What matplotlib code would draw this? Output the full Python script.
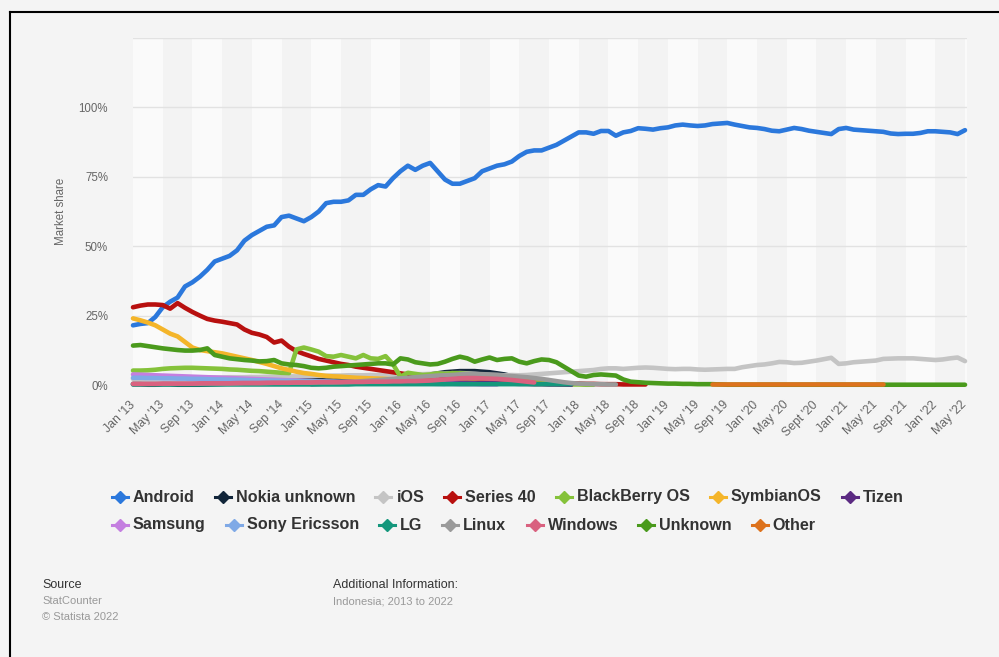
import numpy as np
import matplotlib.pyplot as plt
from matplotlib.lines import Line2D

# Monthly market share of mobile OS in Indonesia, Jan 2013 - May 2022 (113 months)
n_months = 113
tick_labels = ["Jan '13", "May '13", "Sep '13", "Jan '14", "May '14", "Sep '14",
               "Jan '15", "May '15", "Sep '15", "Jan '16", "May '16", "Sep '16",
               "Jan '17", "May '17", "Sep '17", "Jan '18", "May '18", "Sep '18",
               "Jan '19", "May '19", "Sep '19", "Jan '20", "May '20", "Sept '20",
               "Jan '21", "May '21", "Sep '21", "Jan '22", "May '22"]

android = [21.5, 22, 22.3, 24.5, 28, 30, 31.5, 35.5, 37, 39,
           41.5, 44.5, 45.5, 46.5, 48.5, 52, 54, 55.5, 57, 57.5,
           60.5, 61, 60, 59, 60.5, 62.5, 65.5, 66, 66, 66.5,
           68.5, 68.5, 70.5, 72, 71.5, 74.5, 77, 79, 77.5, 79,
           80, 77, 74, 72.5, 72.5, 73.5, 74.5, 77, 78, 79,
           79.5, 80.5, 82.5, 84, 84.5, 84.5, 85.5, 86.5, 88, 89.5,
           91, 91, 90.5, 91.5, 91.5, 89.8, 91, 91.5, 92.5, 92.3,
           92, 92.5, 92.8, 93.5, 93.8, 93.5, 93.3, 93.5, 94, 94.2,
           94.4, 93.8, 93.3, 92.8, 92.6, 92.2, 91.6, 91.4, 92, 92.6,
           92.2, 91.6, 91.2, 90.8, 90.4, 92.2, 92.6, 92, 91.8, 91.6,
           91.4, 91.2, 90.6, 90.4, 90.5, 90.5, 90.8, 91.4, 91.4, 91.2,
           91, 90.4, 91.8]

nokia_unknown = [0.3, 0.3, 0.1, 0.1, 0.3, 0.3, 0.1, 0.1, 0.1, 0.1,
                 0.2, 0.3, 0.4, 0.5, 0.6, 0.7, 0.8, 0.9, 1, 1.1,
                 1.3, 1.8, 2.4, 2.6, 2.2, 1.8, 1.6, 1.6, 1.8, 2,
                 2.2, 2.3, 2.4, 2.5, 2.6, 2.8, 3, 3.2, 3.4, 3.6,
                 3.8, 4.2, 4.6, 4.8, 5, 5, 5, 4.8, 4.6, 4.2,
                 3.8, 3.2, 2.6, 2, 1.5, 1, 0.6, 0.4, 0.2, 0.1] + [None] * 53

ios = [2.2, 2.2, 2.3, 2.3, 2.4, 2.4, 2.5, 2.5, 2.5, 2.6,
       2.6, 2.7, 2.7, 2.8, 2.8, 2.8, 2.9, 2.9, 3, 3,
       3, 3.1, 3.1, 3.2, 3.2, 3.3, 3.3, 3.4, 3.4, 3.5,
       3.5, 3.5, 3.6, 3.6, 3.7, 3.7, 3.8, 3.8, 3.9, 3.9,
       4, 4, 4.1, 4.2, 4.3, 4.2, 4, 3.8, 3.6, 3.6,
       3.5, 3.6, 3.5, 3.6, 3.8, 4, 4.2, 4.4, 4.6, 4.8,
       5, 5.2, 5.4, 5.8, 6, 6, 5.8, 6, 6.2, 6.3,
       6.2, 6, 5.8, 5.7, 5.8, 5.8, 5.6, 5.5, 5.6, 5.7,
       5.8, 5.8, 6.4, 6.8, 7.2, 7.4, 7.8, 8.3, 8.2, 7.9,
       8, 8.4, 8.8, 9.3, 9.8, 7.6, 7.8, 8.2, 8.4, 8.6,
       8.8, 9.4, 9.5, 9.6, 9.6, 9.6, 9.4, 9.2, 9, 9.2,
       9.6, 9.9, 8.6]

series_40 = [28, 28.6, 29, 29, 28.8, 27.5, 29.5, 27.8, 26.3, 25,
             23.8, 23.2, 22.8, 22.3, 21.8, 20, 18.8, 18.2, 17.3, 15.3,
             16, 13.8, 12.2, 11.2, 10.3, 9.4, 8.8, 8.2, 7.6, 7.2,
             6.6, 6.2, 5.8, 5.4, 5, 4.6, 4.2, 3.8, 3.4, 3.1,
             2.6, 3.6, 2.8, 2.4, 2.6, 2.3, 2.1, 2, 1.9, 1.7,
             1.5, 1.4, 1.2, 1.1, 1, 0.9, 0.8, 0.7, 0.6, 0.5,
             0.5, 0.4, 0.4, 0.3, 0.3, 0.3, 0.2, 0.2, 0.2, 0.2] + [None] * 43

blackberry = [5.2, 5.2, 5.3, 5.5, 5.8, 6, 6.1, 6.2, 6.2, 6.1,
              6, 5.9, 5.8, 5.6, 5.5, 5.3, 5.1, 5, 4.8, 4.6,
              4.4, 4.3, 12.8, 13.5, 12.8, 12, 10.4, 10.2, 10.8, 10.2,
              9.6, 10.8, 9.6, 9.4, 10.4, 7.5, 3, 4.4, 4, 3.6,
              3.8, 4.2, 4, 4.3, 4.2, 4, 3.8, 3.6, 3.4, 3,
              2.8, 2.6, 2.3, 2, 1.6, 1.2, 0.8, 0.5, 0.3, 0.2,
              0.2, 0.1, 0.1] + [None] * 50

symbian = [24, 23.3, 22.5, 21.5, 20, 18.5, 17.5, 15.5, 13.5, 12.6,
           12.2, 11.8, 11.4, 10.8, 10.2, 9.6, 9, 8.3, 7.6, 6.8,
           6, 5.4, 4.8, 4.3, 4, 3.6, 3.3, 3.1, 3, 2.8,
           2.6, 2.5, 2.4, 2.3, 2.2, 2, 1.9, 1.8, 1.7, 1.6,
           1.5, 1.4, 1.3, 1.2, 1.1, 1, 0.9, 0.8, 0.8, 0.7,
           0.6, 0.6, 0.5, 0.5, 0.4, 0.4, 0.3, 0.3, 0.3, 0.2] + [None] * 53

tizen = [None] * 24 + [0.3, 0.4, 0.5, 0.6, 0.7, 0.8,
                       0.9, 1, 1, 1.1, 1.1, 1.2, 1.2, 1.2, 1.1, 1.1,
                       1, 1, 0.9, 0.9, 0.8, 0.8, 0.7, 0.7, 0.6, 0.6,
                       0.5, 0.5, 0.4, 0.4, 0.3, 0.3, 0.2, 0.2, 0.2, 0.1] + [None] * 53

samsung = [3.8, 3.7, 3.6, 3.5, 3.4, 3.3, 3.2, 3.1, 3, 2.9,
           2.8, 2.7, 2.6, 2.5, 2.4, 2.3, 2.2, 2.1, 2, 1.9,
           1.8, 1.7, 1.6, 1.5, 1.4, 1.3, 1.2, 1.1, 1, 1,
           0.9, 0.9, 0.8, 0.8, 0.7, 0.7, 0.6, 0.6, 0.5, 0.5,
           0.5, 0.4, 0.4, 0.4, 0.3, 0.3, 0.3, 0.2, 0.2, 0.2] + [None] * 63

sony_ericsson = [2.6, 2.6, 2.5, 2.5, 2.4, 2.4, 2.3, 2.3, 2.2, 2.2,
                 2.1, 2, 2, 1.9, 1.9, 1.8, 1.7, 1.7, 1.6, 1.6,
                 1.5, 1.5, 1.4, 1.4, 1.3, 1.3, 1.2, 1.2, 1.1, 1.1,
                 1, 1, 0.9, 0.9, 0.8, 0.8, 0.7, 0.7, 0.6, 0.6,
                 0.5, 0.5, 0.4] + [None] * 70

lg = [0.2] * 30 + [0.3] * 30 + [None] * 53

linux = [0.5, 0.5, 0.5, 0.5, 0.5, 0.5, 0.5, 0.5, 0.5, 0.5,
         0.6, 0.6, 0.6, 0.6, 0.6, 0.7, 0.7, 0.7, 0.7, 0.8,
         0.8, 0.8, 0.9, 0.9, 0.9, 1, 1, 1, 1.1, 1.1,
         1.2, 1.4, 1.6, 1.8, 2, 2.2, 2.4, 2.6, 2.8, 3,
         3.2, 3.4, 3.5, 3.6, 3.8, 4, 4, 3.9, 3.8, 3.6,
         3.4, 3.2, 3, 2.8, 2.5, 2.2, 1.8, 1.4, 1, 0.7,
         0.5, 0.4, 0.3, 0.3, 0.2, 0.2] + [None] * 47

windows = [0.4, 0.4, 0.4, 0.4, 0.5, 0.5, 0.5, 0.5, 0.5, 0.6,
           0.6, 0.6, 0.6, 0.6, 0.7, 0.7, 0.7, 0.7, 0.8, 0.8,
           0.8, 0.8, 0.9, 0.9, 0.9, 1, 1, 1, 1, 1.1,
           1.1, 1.1, 1.2, 1.2, 1.2, 1.3, 1.3, 1.4, 1.4, 1.5,
           1.6, 1.8, 2, 2.2, 2.4, 2.5, 2.5, 2.4, 2.3, 2.2,
           2, 1.8, 1.5, 1.2, 0.9] + [None] * 58

unknown = [14.2, 14.4, 14, 13.6, 13.2, 12.9, 12.6, 12.4, 12.4, 12.6,
           13.2, 10.8, 10.2, 9.6, 9.3, 9, 8.8, 8.5, 8.6, 9,
           7.8, 7.4, 7.2, 6.8, 6.2, 6, 6.2, 6.6, 6.8, 7,
           7.2, 7.4, 7.6, 7.8, 7.8, 7.4, 9.6, 9.2, 8.2, 7.8,
           7.4, 7.6, 8.4, 9.4, 10.2, 9.6, 8.4, 9.2, 9.9, 9,
           9.4, 9.6, 8.4, 7.8, 8.6, 9.2, 9, 8.2, 6.6, 5,
           3.4, 3, 3.6, 3.8, 3.6, 3.4, 2, 1.2, 1, 0.8,
           0.7, 0.6, 0.5, 0.5, 0.4, 0.4, 0.3, 0.3, 0.3, 0.2] + [0.1] * 33

other = [None] * 78 + [0.2] * 24 + [None] * 11

names = ["Android", "Nokia unknown", "iOS", "Series 40", "BlackBerry OS", "SymbianOS", "Tizen",
         "Samsung", "Sony Ericsson", "LG", "Linux", "Windows", "Unknown", "Other"]
values = [android, nokia_unknown, ios, series_40, blackberry, symbian, tizen,
          samsung, sony_ericsson, lg, linux, windows, unknown, other]
colors = ["#2b78dc", "#12263a", "#c4c4c4", "#b8100f", "#85c23a", "#f4b52a", "#5b2a82",
          "#c47fe0", "#7fa9e6", "#14977c", "#9a9a9a", "#d9617f", "#4a9a1c", "#dd721d"]

W, H = 999, 657
fig = plt.figure(figsize=(W / 100, H / 100), dpi=100, facecolor="#f4f4f4")
plt.rcParams['font.family'] = ['Liberation Sans', 'DejaVu Sans']

def fx(x):
    return x / W

def fy(y):
    return 1 - y / H

# plot area: x 133..967 px, y 38..385 px (0% .. 125%)
ax = fig.add_axes([fx(133), fy(385), fx(967) - fx(133), fy(38) - fy(385)])
ax.set_facecolor("#fafafa")
ax.set_xlim(0, 112 * (967 - 133) / (965 - 133))
ax.set_ylim(0, 125)

tick_pos = np.arange(0, n_months, 4)
for k, p in enumerate(tick_pos):
    if k % 2 == 1:
        ax.axvspan(p, p + 4, color="#f3f3f3", lw=0, zorder=0)

for v in [0, 25, 50, 75, 100, 125]:
    ax.axhline(v, color="#e2e2e2", lw=1, zorder=1)

x = np.arange(n_months)
for name, vals, c in zip(names, values, colors):
    y = np.array([np.nan if v is None else v for v in vals], dtype=float)
    ax.plot(x, y, color=c, lw=3.3, solid_joinstyle="round", solid_capstyle="round",
            zorder=3, clip_on=False)

for s in ax.spines.values():
    s.set_visible(False)
ax.set_yticks([0, 25, 50, 75, 100])
ax.set_yticklabels(["0%", "25%", "50%", "75%", "100%"])
ax.set_xticks(tick_pos)
ax.set_xticklabels(tick_labels, rotation=45, ha="right", va="center", rotation_mode="anchor")
ax.tick_params(axis="both", length=0, colors="#666666")
ax.tick_params(axis="x", pad=13, labelsize=8.8)
ax.tick_params(axis="y", pad=18, labelsize=8.3)
ax.set_ylabel("Market share", color="#666666", fontsize=8.3, labelpad=8)

# legend laid out like a flowing row
renderer = fig.canvas.get_renderer()
rows = [list(range(0, 7)), list(range(7, 14))]
row_y = [497, 525]
for row, yy in zip(rows, row_y):
    xx = 112
    for idx in row:
        c = colors[idx]
        fig.add_artist(Line2D([fx(xx), fx(xx + 16)], [fy(yy), fy(yy)], color=c, lw=2.2))
        fig.add_artist(Line2D([fx(xx + 8)], [fy(yy)], marker="D", ms=6.5, color=c, lw=0))
        t = fig.text(fx(xx + 21), fy(yy), names[idx], fontsize=11.6, fontweight="bold",
                     color="#333333", va="center", ha="left")
        w = t.get_window_extent(renderer).width
        xx += 21 + w + 20

fig.text(fx(42), fy(585), "Source", fontsize=9, color="#333333", va="center")
fig.text(fx(42), fy(601), "StatCounter", fontsize=8, color="#999999", va="center")
fig.text(fx(42), fy(617), "\u00a9 Statista 2022", fontsize=8, color="#999999", va="center")
fig.text(fx(333), fy(585), "Additional Information:", fontsize=9, color="#333333", va="center")
fig.text(fx(333), fy(601), "Indonesia; 2013 to 2022", fontsize=8, color="#999999", va="center")

# frame around the screenshot (top and left edges)
fig.add_artist(Line2D([fx(9.5), fx(9.5)], [fy(12), 0], color="black", lw=1.5))
fig.add_artist(Line2D([fx(9.5), 1], [fy(12), fy(12)], color="black", lw=1.5))

fig.savefig("out.png", dpi=100, facecolor=fig.get_facecolor())
